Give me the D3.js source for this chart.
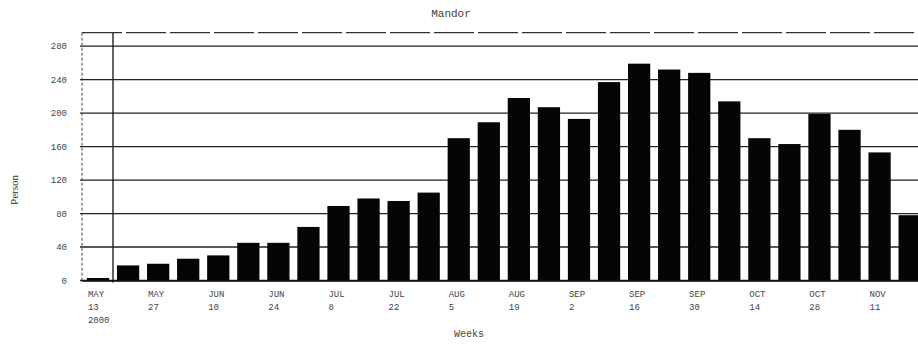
<!DOCTYPE html>
<html>
<head>
<meta charset="utf-8">
<script src="https://cdn.jsdelivr.net/npm/d3@7/dist/d3.min.js"></script>
<style>
  html, body { margin: 0; padding: 0; background: #fff; overflow: hidden; }
  svg { display: block; }
  text { fill: #333; }
</style>
</head>
<body>
<svg id="chart" width="918" height="346"></svg>
<script>
// Weekly counts for Mandor, May–November 2000
const weeks = [
  "MAY 13", "MAY 20", "MAY 27", "JUN 3", "JUN 10", "JUN 17", "JUN 24",
  "JUL 1", "JUL 8", "JUL 15", "JUL 22", "JUL 29", "AUG 5", "AUG 12",
  "AUG 19", "AUG 26", "SEP 2", "SEP 9", "SEP 16", "SEP 23", "SEP 30",
  "OCT 7", "OCT 14", "OCT 21", "OCT 28", "NOV 4", "NOV 11", "NOV 18"
];
const persons = [
  3, 18, 20, 26, 30, 45, 45,
  64, 89, 98, 95, 105, 170, 189,
  218, 207, 193, 237, 259, 252, 248,
  214, 170, 163, 199, 180, 153, 78
];
const yTicks = [0, 40, 80, 120, 160, 200, 240, 280];
const yearLabel = "2000";

const svg = d3.select("#chart");
const W = 918;

const x = d3.scaleBand()
  .domain(weeks)
  .range([83, 83 + weeks.length * 30.06])
  .paddingInner(0.26)
  .paddingOuter(0.13);

const y = d3.scaleLinear()
  .domain([0, 296])
  .range([280.5, 32.7]);

const mono = "'Liberation Mono', 'DejaVu Sans Mono', monospace";

// Title
svg.append("text")
  .attr("x", 451).attr("y", 17)
  .attr("text-anchor", "middle")
  .style("font-family", mono).style("font-size", "11px").style("fill", "#444")
  .text("Mandor");

// Horizontal grid and plot top edge
const grid = svg.append("g");
grid.selectAll("line.grid")
  .data(yTicks)
  .join("line")
  .attr("class", "grid")
  .attr("x1", 80).attr("x2", W)
  .attr("y1", d => y(d)).attr("y2", d => y(d))
  .attr("stroke", "#222").attr("stroke-width", 1.3);
grid.append("line")
  .attr("x1", 82).attr("x2", W)
  .attr("y1", y.range()[1]).attr("y2", y.range()[1])
  .attr("stroke", "#333").attr("stroke-width", 1.2)
  .attr("stroke-dasharray", "40,4");

// Frame: dashed outer left edge and the value axis line
svg.append("line")
  .attr("x1", 82).attr("x2", 82)
  .attr("y1", y.range()[1]).attr("y2", y(0) + 1)
  .attr("stroke", "#444").attr("stroke-width", 1)
  .attr("stroke-dasharray", "3,2");
svg.append("line")
  .attr("x1", 113).attr("x2", 113)
  .attr("y1", y.range()[1]).attr("y2", y(0) + 2)
  .attr("stroke", "#111").attr("stroke-width", 1.3);

// Bars
svg.append("g")
  .selectAll("rect")
  .data(persons)
  .join("rect")
  .attr("x", (d, i) => x(weeks[i]))
  .attr("width", x.bandwidth())
  .attr("y", d => y(d))
  .attr("height", d => y(0) - y(d))
  .attr("fill", "#050505");

// Baseline
svg.append("line")
  .attr("x1", 82).attr("x2", W)
  .attr("y1", y(0) + 0.5).attr("y2", y(0) + 0.5)
  .attr("stroke", "#111").attr("stroke-width", 1.5);

// Value axis labels
const yAxis = d3.axisLeft(y).tickValues(yTicks).tickSize(0).tickPadding(0);
const yg = svg.append("g").attr("transform", "translate(67,0)").call(yAxis);
yg.select(".domain").remove();
yg.selectAll("text")
  .style("font-family", mono).style("font-size", "9px").style("fill", "#444");

// Week labels: every second week, month above day, year under the first
const xAxis = d3.axisBottom(x)
  .tickValues(weeks.filter((d, i) => i % 2 === 0))
  .tickSize(0).tickFormat("");
const xg = svg.append("g").attr("transform", `translate(0,${y(0)})`).call(xAxis);
xg.select(".domain").remove();
xg.selectAll(".tick").each(function (d, i) {
  const t = d3.select(this).append("text")
    .attr("text-anchor", "start")
    .attr("x", -x.bandwidth() / 2 + 1)
    .style("font-family", mono).style("font-size", "9px").style("fill", "#444");
  const parts = d.split(" ");
  t.append("tspan").attr("x", -x.bandwidth() / 2 + 1).attr("y", 16).text(parts[0]);
  t.append("tspan").attr("x", -x.bandwidth() / 2 + 1).attr("y", 29).text(parts[1]);
  if (i === 0) {
    t.append("tspan").attr("x", -x.bandwidth() / 2 + 1).attr("y", 42).text(yearLabel);
  }
});

// Axis titles
svg.append("text")
  .attr("transform", "translate(18,190) rotate(-90)")
  .attr("text-anchor", "middle")
  .style("font-family", "'Liberation Serif', serif").style("font-size", "11px").style("fill", "#333")
  .text("Person");

svg.append("text")
  .attr("x", 469).attr("y", 337)
  .attr("text-anchor", "middle")
  .style("font-family", mono).style("font-size", "10px").style("fill", "#444")
  .text("Weeks");
</script>
</body>
</html>
